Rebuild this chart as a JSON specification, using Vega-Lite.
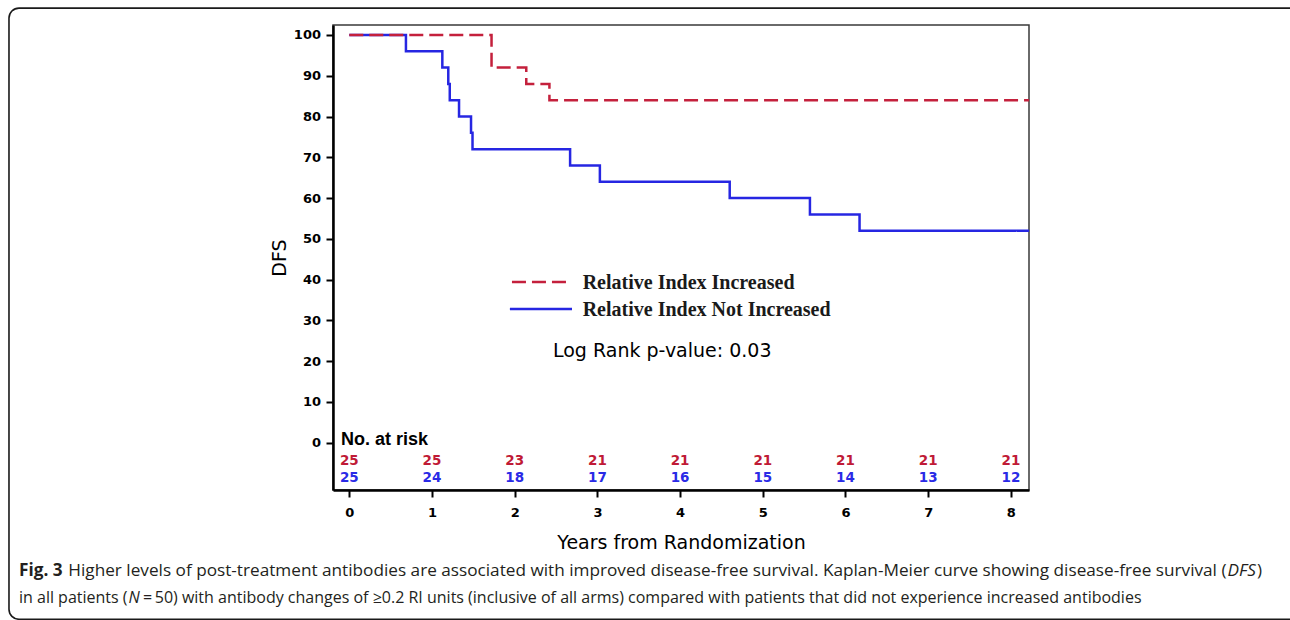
{
  "$schema": "https://vega.github.io/schema/vega-lite/v6.json",
  "width": 696,
  "height": 465,
  "autosize": {"type": "none"},
  "padding": {"left": 333, "top": 25, "right": 261, "bottom": 130},
  "background": "white",
  "config": {
    "view": {"stroke": "#3a3a3a", "strokeWidth": 1.5},
    "axis": {"grid": false}
  },
  "datasets": {
    "curves": [
      {"group": "Relative Index Not Increased", "t": 0, "s": 100},
      {"group": "Relative Index Not Increased", "t": 0.685, "s": 96},
      {"group": "Relative Index Not Increased", "t": 1.125, "s": 92},
      {"group": "Relative Index Not Increased", "t": 1.197, "s": 88},
      {"group": "Relative Index Not Increased", "t": 1.215, "s": 84},
      {"group": "Relative Index Not Increased", "t": 1.327, "s": 80},
      {"group": "Relative Index Not Increased", "t": 1.472, "s": 76},
      {"group": "Relative Index Not Increased", "t": 1.49, "s": 72},
      {"group": "Relative Index Not Increased", "t": 2.67, "s": 68},
      {"group": "Relative Index Not Increased", "t": 3.03, "s": 64},
      {"group": "Relative Index Not Increased", "t": 4.6, "s": 60},
      {"group": "Relative Index Not Increased", "t": 5.57, "s": 56},
      {"group": "Relative Index Not Increased", "t": 6.17, "s": 52},
      {"group": "Relative Index Not Increased", "t": 8.22, "s": 52},
      {"group": "Relative Index Increased", "t": 0, "s": 100},
      {"group": "Relative Index Increased", "t": 1.72, "s": 92},
      {"group": "Relative Index Increased", "t": 2.14, "s": 88},
      {"group": "Relative Index Increased", "t": 2.42, "s": 84},
      {"group": "Relative Index Increased", "t": 8.22, "s": 84}
    ],
    "atrisk": [
      {"group": "Relative Index Increased", "year": 0, "n": 25},
      {"group": "Relative Index Increased", "year": 1, "n": 25},
      {"group": "Relative Index Increased", "year": 2, "n": 23},
      {"group": "Relative Index Increased", "year": 3, "n": 21},
      {"group": "Relative Index Increased", "year": 4, "n": 21},
      {"group": "Relative Index Increased", "year": 5, "n": 21},
      {"group": "Relative Index Increased", "year": 6, "n": 21},
      {"group": "Relative Index Increased", "year": 7, "n": 21},
      {"group": "Relative Index Increased", "year": 8, "n": 21},
      {"group": "Relative Index Not Increased", "year": 0, "n": 25},
      {"group": "Relative Index Not Increased", "year": 1, "n": 24},
      {"group": "Relative Index Not Increased", "year": 2, "n": 18},
      {"group": "Relative Index Not Increased", "year": 3, "n": 17},
      {"group": "Relative Index Not Increased", "year": 4, "n": 16},
      {"group": "Relative Index Not Increased", "year": 5, "n": 15},
      {"group": "Relative Index Not Increased", "year": 6, "n": 14},
      {"group": "Relative Index Not Increased", "year": 7, "n": 13},
      {"group": "Relative Index Not Increased", "year": 8, "n": 12}
    ]
  },
  "layer": [
    {
      "data": {"values": [{}]},
      "mark": {"type": "rect", "filled": false, "stroke": "#1a1a1a", "strokeWidth": 1.6, "cornerRadius": 10, "clip": false},
      "encoding": {
        "x": {"datum": -4.115, "scale": {"domain": [-0.197, 8.219], "nice": false, "zero": false}},
        "x2": {"datum": 11.6},
        "y": {"datum": 106.6, "scale": {"domain": [-11.6, 102.45], "nice": false, "zero": false}},
        "y2": {"datum": -43.3}
      }
    },
    {
      "data": {"name": "curves"},
      "transform": [{"filter": "datum.group === 'Relative Index Not Increased'"}],
      "mark": {"type": "line", "interpolate": "step-after", "strokeWidth": 2.5},
      "encoding": {
        "x": {
          "field": "t", "type": "quantitative",
          "scale": {"domain": [-0.197, 8.219], "nice": false, "zero": false},
          "axis": {
            "values": [0, 1, 2, 3, 4, 5, 6, 7, 8], "format": "d",
            "title": "Years from Randomization",
            "titleFont": "DejaVu Sans", "titleFontSize": 19, "titleFontWeight": "normal", "titleColor": "#000", "titlePadding": 14,
            "labelFont": "DejaVu Sans", "labelFontSize": 13, "labelFontWeight": "bold", "labelColor": "#000", "labelPadding": 9,
            "tickSize": 7, "tickWidth": 2, "tickColor": "#000",
            "domainColor": "#000", "domainWidth": 2.5, "grid": false
          }
        },
        "y": {
          "field": "s", "type": "quantitative",
          "scale": {"domain": [-11.6, 102.45], "nice": false, "zero": false},
          "axis": {
            "values": [0, 10, 20, 30, 40, 50, 60, 70, 80, 90, 100], "format": "d",
            "title": "DFS",
            "titleFont": "DejaVu Sans", "titleFontSize": 19, "titleFontWeight": "normal", "titleColor": "#000", "titlePadding": 4,
            "labelFont": "DejaVu Sans", "labelFontSize": 13, "labelFontWeight": "bold", "labelColor": "#000", "labelPadding": 5.5,
            "tickSize": 7, "tickWidth": 2, "tickColor": "#000",
            "domainColor": "#000", "domainWidth": 2.5, "grid": false
          }
        },
        "color": {
          "field": "group", "type": "nominal",
          "scale": {"domain": ["Relative Index Increased", "Relative Index Not Increased"], "range": ["#c4203c", "#2626e2"]},
          "legend": null
        },
        "strokeDash": {
          "field": "group", "type": "nominal",
          "scale": {"domain": ["Relative Index Increased", "Relative Index Not Increased"], "range": [[14, 6], [1, 0]]},
          "legend": null
        }
      }
    },
    {
      "data": {"name": "curves"},
      "transform": [{"filter": "datum.group === 'Relative Index Increased'"}],
      "mark": {"type": "line", "interpolate": "step-after", "strokeWidth": 2.5},
      "encoding": {
        "x": {"field": "t", "type": "quantitative", "scale": {"domain": [-0.197, 8.219], "nice": false, "zero": false}},
        "y": {"field": "s", "type": "quantitative", "scale": {"domain": [-11.6, 102.45], "nice": false, "zero": false}},
        "color": {"field": "group", "type": "nominal", "scale": {"domain": ["Relative Index Increased", "Relative Index Not Increased"], "range": ["#c4203c", "#2626e2"]}, "legend": null},
        "strokeDash": {"field": "group", "type": "nominal", "scale": {"domain": ["Relative Index Increased", "Relative Index Not Increased"], "range": [[14, 6], [1, 0]]}, "legend": null}
      }
    },
    {
      "data": {"values": [{}]},
      "mark": {"type": "rule", "color": "#c4203c", "strokeWidth": 2.5, "strokeDash": [14, 6]},
      "encoding": {"x": {"datum": 1.967}, "x2": {"datum": 2.669}, "y": {"datum": 39.42}}
    },
    {
      "data": {"values": [{}]},
      "mark": {"type": "rule", "color": "#2626e2", "strokeWidth": 2.5},
      "encoding": {"x": {"datum": 1.942}, "x2": {"datum": 2.693}, "y": {"datum": 32.79}}
    },
    {
      "data": {"values": [{"label": "Relative Index Increased"}]},
      "mark": {"type": "text", "font": "Liberation Serif", "fontWeight": "bold", "fontSize": 20, "color": "#1a1a1a", "baseline": "alphabetic", "align": "left"},
      "encoding": {"x": {"datum": 2.822}, "y": {"datum": 37.66}, "text": {"field": "label"}}
    },
    {
      "data": {"values": [{"label": "Relative Index Not Increased"}]},
      "mark": {"type": "text", "font": "Liberation Serif", "fontWeight": "bold", "fontSize": 20, "color": "#1a1a1a", "baseline": "alphabetic", "align": "left"},
      "encoding": {"x": {"datum": 2.822}, "y": {"datum": 31.15}, "text": {"field": "label"}}
    },
    {
      "data": {"name": "atrisk"},
      "transform": [{"filter": "datum.group === 'Relative Index Increased'"}],
      "mark": {"type": "text", "font": "DejaVu Sans", "fontWeight": "bold", "fontSize": 13.5, "color": "#c01a36", "baseline": "middle", "align": "center"},
      "encoding": {
        "x": {"field": "year", "type": "quantitative"},
        "y": {"datum": -4.5},
        "text": {"field": "n", "type": "quantitative"}
      }
    },
    {
      "data": {"name": "atrisk"},
      "transform": [{"filter": "datum.group === 'Relative Index Not Increased'"}],
      "mark": {"type": "text", "font": "DejaVu Sans", "fontWeight": "bold", "fontSize": 13.5, "color": "#2a2ae6", "baseline": "middle", "align": "center"},
      "encoding": {
        "x": {"field": "year", "type": "quantitative"},
        "y": {"datum": -8.75},
        "text": {"field": "n", "type": "quantitative"}
      }
    },
    {
      "data": {"values": [{"label": "No. at risk"}]},
      "mark": {"type": "text", "font": "Liberation Sans", "fontWeight": "bold", "fontSize": 18, "color": "#000", "baseline": "alphabetic", "align": "left"},
      "encoding": {"x": {"datum": -0.1}, "y": {"datum": -0.56}, "text": {"field": "label"}}
    },
    {
      "data": {"values": [{"label": "Log Rank p-value: 0.03"}]},
      "mark": {"type": "text", "font": "DejaVu Sans", "fontSize": 19, "color": "#000", "baseline": "alphabetic", "align": "left"},
      "encoding": {"x": {"datum": 2.463}, "y": {"datum": 20.95}, "text": {"field": "label"}}
    },
    {
      "data": {"values": [{"label": "Fig. 3"}]},
      "mark": {"type": "text", "font": "Open Sans", "fontWeight": "bold", "fontSize": 17.2, "color": "#231f20", "baseline": "alphabetic", "align": "left"},
      "encoding": {"x": {"datum": -3.994}, "y": {"datum": -32.7}, "text": {"field": "label"}}
    },
    {
      "data": {"values": [{"label": "Higher levels of post-treatment antibodies are associated with improved disease-free survival. Kaplan-Meier curve showing disease-free survival ("}]},
      "mark": {"type": "text", "font": "Open Sans", "fontSize": 17.2, "color": "#231f20", "baseline": "alphabetic", "align": "right"},
      "encoding": {"x": {"datum": 10.607}, "y": {"datum": -32.7}, "text": {"field": "label"}}
    },
    {
      "data": {"values": [{"label": "DFS"}]},
      "mark": {"type": "text", "font": "Open Sans", "fontStyle": "italic", "fontSize": 17.2, "color": "#231f20", "baseline": "alphabetic", "align": "left"},
      "encoding": {"x": {"datum": 10.619}, "y": {"datum": -32.7}, "text": {"field": "label"}}
    },
    {
      "data": {"values": [{"label": ")"}]},
      "mark": {"type": "text", "font": "Open Sans", "fontSize": 17.2, "color": "#231f20", "baseline": "alphabetic", "align": "left"},
      "encoding": {"x": {"datum": 10.976}, "y": {"datum": -32.7}, "text": {"field": "label"}}
    },
    {
      "data": {"values": [{"label": "in all patients ("}]},
      "mark": {"type": "text", "font": "Open Sans", "fontSize": 16, "color": "#231f20", "baseline": "alphabetic", "align": "left"},
      "encoding": {"x": {"datum": -3.994}, "y": {"datum": -39.3}, "text": {"field": "label"}}
    },
    {
      "data": {"values": [{"label": "N"}]},
      "mark": {"type": "text", "font": "Open Sans", "fontStyle": "italic", "fontSize": 16, "color": "#231f20", "baseline": "alphabetic", "align": "left"},
      "encoding": {"x": {"datum": -2.671}, "y": {"datum": -39.3}, "text": {"field": "label"}}
    },
    {
      "data": {"values": [{"label": "\u2009=\u200950) with antibody changes of \u22650.2 RI units (inclusive of all arms) compared with patients that did not experience increased antibodies"}]},
      "mark": {"type": "text", "font": "Open Sans", "fontSize": 16, "color": "#231f20", "baseline": "alphabetic", "align": "left"},
      "encoding": {"x": {"datum": -2.495}, "y": {"datum": -39.3}, "text": {"field": "label"}}
    }
  ]
}
